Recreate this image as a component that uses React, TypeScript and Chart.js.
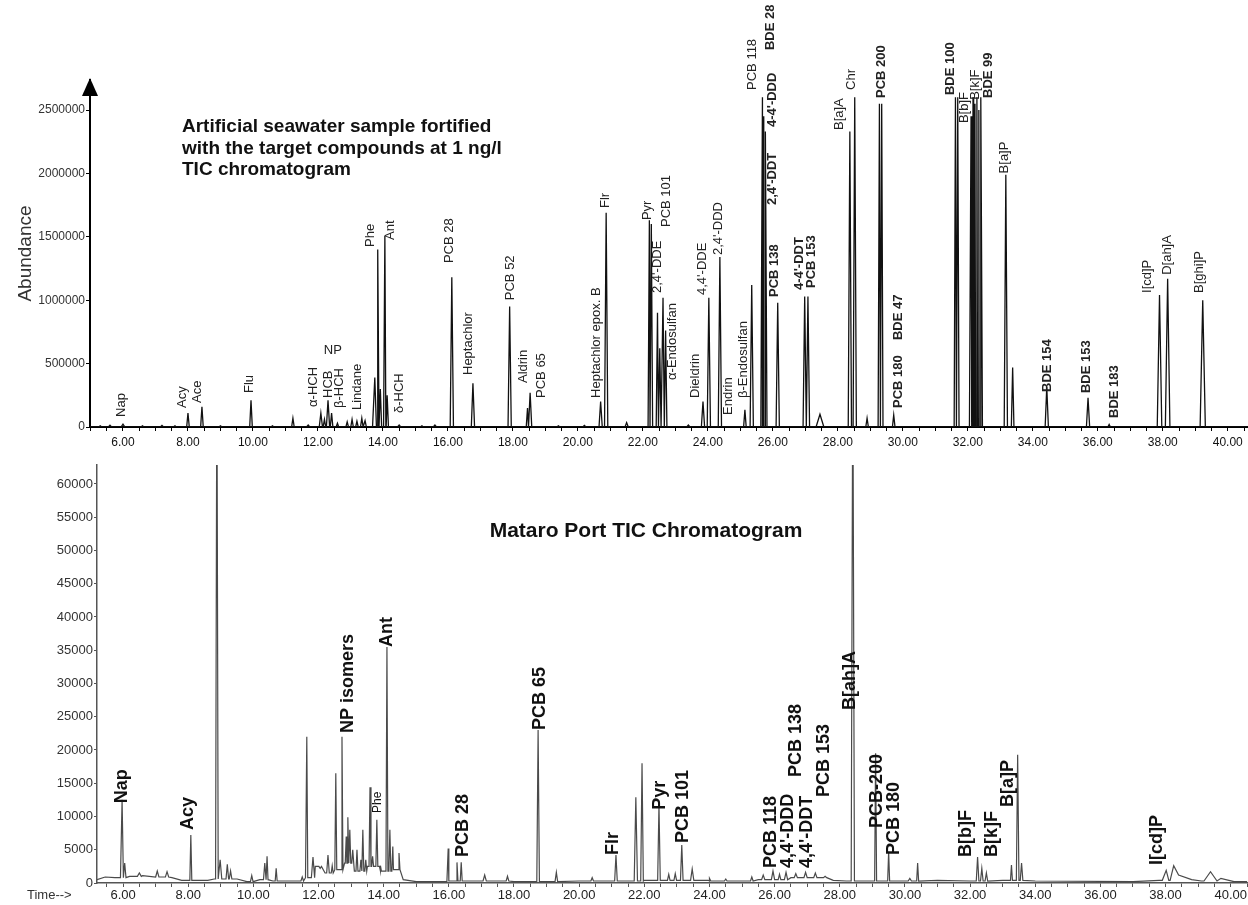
import React, { useEffect, useRef } from 'react';
import { Chart, registerables } from 'chart.js';

Chart.register(...registerables);

const FONT = "'Liberation Sans', Arial, Helvetica, sans-serif";

// ---- Fortified artificial seawater standard (TIC) ----
// [retention time (min), abundance, peak half width (min)]
const standardPeaks: [number, number, number][] = [
  [5.3, 10000, 0.05], [5.6, 14000, 0.05], [6.0, 22000, 0.06], [6.6, 9000, 0.05],
  [7.2, 12000, 0.05], [7.6, 9000, 0.05], [8.0, 110000, 0.04], [8.43, 160000, 0.04],
  [9.0, 9000, 0.05], [9.94, 210000, 0.04], [10.6, 9000, 0.05], [11.23, 70000, 0.04],
  [11.7, 15000, 0.05], [12.09, 110000, 0.05], [12.2, 60000, 0.04], [12.31, 210000, 0.05],
  [12.42, 110000, 0.04], [12.6, 30000, 0.04], [12.9, 40000, 0.04], [13.05, 60000, 0.04],
  [13.2, 45000, 0.04], [13.35, 70000, 0.04], [13.45, 50000, 0.04], [13.75, 390000, 0.07],
  [13.84, 1400000, 0.04], [13.92, 300000, 0.04], [14.06, 1510000, 0.04], [14.13, 250000, 0.04],
  [14.5, 15000, 0.05], [15.2, 10000, 0.05], [15.6, 15000, 0.05], [16.12, 1180000, 0.05],
  [16.77, 345000, 0.05], [17.9, 950000, 0.05], [18.45, 150000, 0.04], [18.53, 270000, 0.05],
  [19.4, 10000, 0.05], [20.2, 12000, 0.05], [20.7, 200000, 0.05], [20.87, 1690000, 0.05],
  [21.5, 35000, 0.05], [22.2, 1630000, 0.04], [22.26, 1600000, 0.04], [22.45, 900000, 0.04],
  [22.52, 620000, 0.04], [22.62, 1020000, 0.04], [22.7, 760000, 0.04], [23.4, 15000, 0.05],
  [23.85, 200000, 0.05], [24.03, 1020000, 0.05], [24.37, 1340000, 0.05], [25.14, 135000, 0.04],
  [25.35, 1120000, 0.05], [25.68, 2600000, 0.05], [25.72, 2450000, 0.04], [25.77, 2330000, 0.05],
  [26.15, 980000, 0.05], [26.98, 1030000, 0.05], [27.08, 1030000, 0.05], [27.45, 100000, 0.12],
  [28.37, 2330000, 0.05], [28.52, 2600000, 0.05], [28.9, 70000, 0.04], [29.28, 2550000, 0.04],
  [29.35, 2550000, 0.04], [29.72, 95000, 0.04], [31.62, 2600000, 0.04], [31.69, 2600000, 0.04],
  [32.1, 2450000, 0.05], [32.16, 2600000, 0.04], [32.22, 2550000, 0.04], [32.28, 2600000, 0.04],
  [32.34, 2500000, 0.04], [32.4, 2600000, 0.05], [33.17, 1990000, 0.05], [33.38, 470000, 0.04],
  [34.43, 315000, 0.05], [35.7, 230000, 0.05], [36.35, 20000, 0.04], [37.9, 1040000, 0.07],
  [38.15, 1170000, 0.07], [39.23, 1000000, 0.08],
];
const standardBaseline: [number, number][] = [[4.985, 0], [40.615, 0]];

// compound names, anchored at (retention time, abundance) where the text starts
const standardLabels = [
  { text: 'Nap', t: 5.94, v: 79000 }, { text: 'Acy', t: 7.82, v: 150000 },
  { text: 'Ace', t: 8.28, v: 189000 }, { text: 'Flu', t: 9.88, v: 268000 },
  { text: 'α-HCH', t: 11.85, v: 158000 }, { text: 'NP', t: 12.46, v: 607000 },
  { text: 'HCB', t: 12.31, v: 229000 }, { text: 'β-HCH', t: 12.65, v: 150000 },
  { text: 'Lindane', t: 13.2, v: 134000 }, { text: 'Phe', t: 13.6, v: 1420000 },
  { text: 'Ant', t: 14.22, v: 1475000 }, { text: 'δ-HCH', t: 14.52, v: 110000 },
  { text: 'PCB 28', t: 16.06, v: 1293000 }, { text: 'Heptachlor', t: 16.62, v: 410000 },
  { text: 'PCB 52', t: 17.91, v: 1000000 }, { text: 'Aldrin', t: 18.31, v: 347000 },
  { text: 'PCB 65', t: 18.89, v: 229000 }, { text: 'Heptachlor epox. B', t: 20.58, v: 229000 },
  { text: 'Flr', t: 20.86, v: 1727000 }, { text: 'Pyr', t: 22.15, v: 1632000 },
  { text: "2,4'-DDE", t: 22.46, v: 1057000 }, { text: 'PCB 101', t: 22.74, v: 1577000 },
  { text: 'α-Endosulfan', t: 22.92, v: 371000 }, { text: 'Dieldrin', t: 23.63, v: 229000 },
  { text: "4,4'-DDE", t: 23.82, v: 1041000 }, { text: "2,4'-DDD", t: 24.31, v: 1356000 },
  { text: 'Endrin', t: 24.62, v: 95000 }, { text: 'β-Endosulfan', t: 25.08, v: 229000 },
  { text: 'PCB 118', t: 25.38, v: 2658000 }, { text: 'BDE 28', t: 25.91, v: 2973000 },
  { text: "4-4'-DDD", t: 26.0, v: 2366000 }, { text: "2,4'-DDT", t: 26.0, v: 1751000 },
  { text: 'PCB 138', t: 26.06, v: 1025000 }, { text: "4-4'-DDT", t: 26.83, v: 1080000 },
  { text: 'PCB 153', t: 27.2, v: 1096000 }, { text: 'B[a]A', t: 28.06, v: 2342000 },
  { text: 'Chr', t: 28.43, v: 2658000 }, { text: 'PCB 200', t: 29.35, v: 2595000 },
  { text: 'PCB 180', t: 29.88, v: 150000 }, { text: 'BDE 47', t: 29.88, v: 686000 },
  { text: 'BDE 100', t: 31.45, v: 2618000 }, { text: 'B[b]F', t: 31.91, v: 2397000 },
  { text: 'B[k]F', t: 32.22, v: 2580000 }, { text: 'BDE 99', t: 32.62, v: 2595000 },
  { text: 'B[a]P', t: 33.14, v: 2000000 }, { text: 'BDE 154', t: 34.46, v: 276000 },
  { text: 'BDE 153', t: 35.66, v: 268000 }, { text: 'BDE 183', t: 36.52, v: 71000 },
  { text: 'I[cd]P', t: 37.54, v: 1057000 }, { text: 'D[ah]A', t: 38.15, v: 1200000 },
  { text: 'B[ghi]P', t: 39.14, v: 1057000 },
];
const standardAbundanceTicks = [0, 500000, 1000000, 1500000, 2000000, 2500000];
const standardTitle = [
  'Artificial seawater sample fortified',
  'with the target compounds at 1 ng/l',
  'TIC chromatogram',
];

// ---- Mataro Port sample (TIC) ----
const portPeaks: [number, number, number][] = [
  [5.97, 12500, 0.05], [6.05, 3000, 0.04], [6.5, 1500, 0.06], [7.05, 1800, 0.05],
  [7.35, 1700, 0.05], [8.08, 7200, 0.03], [8.88, 80000, 0.04], [8.98, 3500, 0.05],
  [9.2, 2800, 0.04], [9.3, 1800, 0.04], [9.95, 1100, 0.04], [10.35, 3000, 0.04],
  [10.42, 4000, 0.03], [10.7, 2200, 0.03], [11.5, 900, 0.04], [11.64, 22000, 0.03],
  [11.83, 3900, 0.05], [12.05, 2200, 0.04], [12.29, 4200, 0.04], [12.42, 2600, 0.03],
  [12.53, 16500, 0.03], [12.72, 22000, 0.03], [12.85, 7000, 0.03], [12.9, 9900, 0.03],
  [12.96, 8000, 0.03], [13.05, 5000, 0.03], [13.18, 5000, 0.03], [13.3, 3500, 0.03],
  [13.36, 8000, 0.03], [13.45, 3500, 0.03], [13.58, 14400, 0.03], [13.66, 4000, 0.03],
  [13.79, 9500, 0.03], [13.9, 2600, 0.03], [14.1, 35500, 0.03], [14.19, 8000, 0.03],
  [14.28, 5500, 0.03], [14.47, 4500, 0.03], [15.98, 5200, 0.04], [16.25, 3100, 0.03],
  [16.38, 3100, 0.03], [17.1, 1200, 0.05], [17.8, 1000, 0.04], [18.74, 23000, 0.04],
  [19.3, 1600, 0.04], [20.4, 800, 0.04], [21.13, 4200, 0.04], [21.74, 12900, 0.05],
  [21.93, 18000, 0.04], [22.45, 11700, 0.04], [22.75, 1300, 0.04], [22.95, 1400, 0.04],
  [23.15, 5700, 0.04], [23.47, 2100, 0.05], [24.0, 700, 0.04], [24.5, 600, 0.04],
  [25.3, 900, 0.04], [25.65, 1200, 0.05], [25.95, 1800, 0.05], [26.15, 1300, 0.04],
  [26.35, 1600, 0.05], [26.65, 1400, 0.05], [26.95, 1600, 0.05], [27.25, 1500, 0.05],
  [27.55, 1000, 0.05], [28.4, 80000, 0.05], [29.1, 19500, 0.03], [29.5, 4700, 0.03],
  [30.15, 700, 0.05], [30.39, 3000, 0.03], [32.23, 3900, 0.04], [32.36, 2200, 0.04],
  [32.5, 1500, 0.04], [33.27, 2700, 0.03], [33.46, 19300, 0.04], [33.58, 3000, 0.04],
  [38.02, 1900, 0.12], [38.25, 2600, 0.15], [39.38, 1700, 0.2],
];
const portBaseline: [number, number][] = [
  [5.2, 500], [5.45, 900], [5.75, 800], [6.2, 1000], [6.6, 1100], [7.0, 900], [7.5, 800],
  [7.8, 400], [8.6, 400], [8.8, 600], [9.5, 600], [9.8, 200], [10.2, 500], [10.6, 300],
  [11.3, 300], [11.6, 800], [11.9, 2500], [12.2, 1500], [12.5, 2000], [12.8, 3000],
  [13.1, 1800], [13.5, 2500], [13.9, 1800], [14.3, 2000], [14.6, 500], [15.0, 200],
  [16.0, 300], [16.6, 300], [18.0, 200], [20.0, 300], [22.0, 400], [24.0, 300], [25.5, 500],
  [26.5, 800], [27.8, 400], [28.2, 300], [30.0, 300], [31.0, 400], [32.0, 300], [33.0, 400],
  [34.0, 300], [37.0, 200], [37.8, 400], [38.4, 1200], [38.8, 500], [39.1, 300], [39.7, 700],
  [40.1, 200], [40.51, 200],
];
const portLabels = [
  { text: 'Nap', t: 5.97, v: 12000 }, { text: 'Acy', t: 7.99, v: 7970 },
  { text: 'NP isomers', t: 12.9, v: 22560 }, { text: 'Phe', t: 13.82, v: 10530 },
  { text: 'Ant', t: 14.1, v: 35500 }, { text: 'PCB 28', t: 16.43, v: 3900 },
  { text: 'PCB 65', t: 18.79, v: 23000 }, { text: 'Flr', t: 21.03, v: 4200 },
  { text: 'Pyr', t: 22.47, v: 11000 }, { text: 'PCB 101', t: 23.18, v: 6000 },
  { text: 'PCB 118', t: 25.88, v: 2260 }, { text: "4,4'-DDD", t: 26.4, v: 2260 },
  { text: 'PCB 138', t: 26.67, v: 15940 }, { text: "4,4'-DDT", t: 27.01, v: 2260 },
  { text: 'PCB 153', t: 27.53, v: 12930 }, { text: 'B[ah]A', t: 28.33, v: 26000 },
  { text: 'PCB-200', t: 29.13, v: 8270 }, { text: 'PCB 180', t: 29.68, v: 4210 },
  { text: 'B[b]F', t: 31.89, v: 3900 }, { text: 'B[k]F', t: 32.66, v: 3900 },
  { text: 'B[a]P', t: 33.15, v: 11430 }, { text: 'I[cd]P', t: 37.75, v: 2700 },
];
const portAbundanceTicks = [0, 5000, 10000, 15000, 20000, 25000, 30000, 35000, 40000, 45000, 50000, 55000, 60000];
const portTitle = 'Mataro Port TIC Chromatogram';

// labelled retention times on both time axes
const timeMajor = [6, 8, 10, 12, 14, 16, 18, 20, 22, 24, 26, 28, 30, 32, 34, 36, 38, 40];

// label styling
const standardBold = new Set(['BDE 28', "4-4'-DDD", "2,4'-DDT", 'PCB 138', "4-4'-DDT", 'PCB 153', 'PCB 200', 'PCB 180', 'BDE 47', 'BDE 100', 'BDE 99', 'BDE 154', 'BDE 153', 'BDE 183']);
const standardHorizontal = new Set(['NP']);
const portSmall = new Set(['Phe']);

type Pt = { x: number; y: number };

// Turns the peak table into a polyline: each peak is a spike rising from the local baseline.
function buildTrace(peaks: [number, number, number][], baseline: [number, number][]): Pt[] {
  const baseAt = (t: number) => {
    let v = baseline[0][1];
    for (const [bt, bv] of baseline) {
      if (bt <= t) v = bv;
      else break;
    }
    return v;
  };
  const pts: Pt[] = baseline.map(([x, y]) => ({ x, y }));
  peaks.forEach(([t, h, w]) => {
    pts.push({ x: t - w, y: baseAt(t - w) }, { x: t, y: h }, { x: t + w, y: baseAt(t + w) });
  });
  return pts.sort((a, b) => a.x - b.x);
}

function timeTicks(min: number, max: number) {
  const out: { value: number }[] = [];
  for (let v = Math.ceil(min * 2) / 2; v <= max + 1e-9; v += 0.5) out.push({ value: v });
  return out;
}

type Label = { text: string; t: number; v: number };

function labelPlugin(id: string, items: Label[], fontFor: (s: string) => string, color: string, horizontal: Set<string>) {
  return {
    id,
    afterDatasetsDraw(chart: any) {
      const { ctx, scales } = chart;
      ctx.save();
      ctx.fillStyle = color;
      ctx.textBaseline = 'middle';
      items.forEach((lab) => {
        const px = scales.x.getPixelForValue(lab.t);
        const py = scales.y.getPixelForValue(lab.v);
        ctx.font = fontFor(lab.text);
        ctx.save();
        ctx.translate(px, py);
        if (horizontal.has(lab.text)) {
          ctx.textAlign = 'center';
        } else {
          ctx.rotate(-Math.PI / 2);
          ctx.textAlign = 'left';
        }
        ctx.fillText(lab.text, 0, 0);
        ctx.restore();
      });
      ctx.restore();
    },
  };
}

const standardDecor = {
  id: 'standardDecor',
  afterDraw(chart: any) {
    const { ctx, chartArea } = chart;
    ctx.save();
    // arrow head on the abundance axis
    ctx.fillStyle = '#000';
    ctx.beginPath();
    ctx.moveTo(chartArea.left, chartArea.top - 2);
    ctx.lineTo(chartArea.left - 8, chartArea.top + 16);
    ctx.lineTo(chartArea.left + 8, chartArea.top + 16);
    ctx.closePath();
    ctx.fill();
    // sample description
    ctx.fillStyle = '#111';
    ctx.font = `bold 19px ${FONT}`;
    ctx.textAlign = 'left';
    ctx.textBaseline = 'middle';
    standardTitle.forEach((line, i) => ctx.fillText(line, 182, 127 + i * 21.5));
    ctx.restore();
  },
};

const portDecor = {
  id: 'portDecor',
  afterDraw(chart: any) {
    const { ctx } = chart;
    ctx.save();
    ctx.fillStyle = '#111';
    ctx.font = `bold 21px ${FONT}`;
    ctx.textAlign = 'center';
    ctx.textBaseline = 'middle';
    ctx.fillText(portTitle, 646, 76);
    ctx.font = `13px ${FONT}`;
    ctx.fillStyle = '#333';
    ctx.textAlign = 'left';
    ctx.fillText('Time-->', 27, 440);
    ctx.restore();
  },
};

function timeLabel(v: number) {
  return timeMajor.includes(v) ? v.toFixed(2) : '';
}

function standardConfig(): any {
  const xMin = 4.985;
  const xMax = 40.615;
  return {
    type: 'line',
    data: {
      datasets: [{
        data: buildTrace(standardPeaks, standardBaseline),
        borderColor: '#111',
        borderWidth: 1.3,
        pointRadius: 0,
        tension: 0,
        fill: false,
      }],
    },
    options: {
      animation: false,
      responsive: false,
      devicePixelRatio: 1,
      layout: { padding: { top: 80, left: 0, right: 0, bottom: 0 } },
      plugins: { legend: { display: false }, tooltip: { enabled: false } },
      scales: {
        x: {
          type: 'linear',
          min: xMin,
          max: xMax,
          border: { color: '#000', width: 2 },
          grid: { drawOnChartArea: false, drawTicks: true, tickLength: 4, color: '#000', lineWidth: 1 },
          ticks: { autoSkip: false, maxRotation: 0, padding: 4, color: '#111', font: { family: FONT, size: 12 }, callback: timeLabel },
          afterBuildTicks: (s: any) => { s.ticks = timeTicks(xMin, xMax); },
          afterFit: (s: any) => { s.height = 28; },
        },
        y: {
          type: 'linear',
          min: 0,
          max: 2736600,
          border: { color: '#000', width: 2 },
          grid: { drawOnChartArea: false, drawTicks: true, tickLength: 4, color: '#000', lineWidth: 1 },
          ticks: { padding: 1, color: '#333', font: { family: FONT, size: 12 }, callback: (v: number) => String(v) },
          title: { display: true, text: 'Abundance', color: '#333', font: { family: FONT, size: 19 }, padding: { top: 14, bottom: 0 } },
          afterBuildTicks: (s: any) => { s.ticks = standardAbundanceTicks.map((value) => ({ value })); },
          afterFit: (s: any) => { s.width = 90; },
        },
      },
    },
    plugins: [
      labelPlugin('standardLabels', standardLabels,
        (s) => `${standardBold.has(s) ? 'bold ' : ''}13px ${FONT}`, '#222', standardHorizontal),
      standardDecor,
    ],
  };
}

function portConfig(): any {
  const xMin = 5.2;
  const xMax = 40.51;
  return {
    type: 'line',
    data: {
      datasets: [{
        data: buildTrace(portPeaks, portBaseline),
        borderColor: '#4a4a4a',
        borderWidth: 1.2,
        pointRadius: 0,
        tension: 0,
        fill: false,
      }],
    },
    options: {
      animation: false,
      responsive: false,
      devicePixelRatio: 1,
      layout: { padding: { top: 10, left: 0, right: 0, bottom: 0 } },
      plugins: { legend: { display: false }, tooltip: { enabled: false } },
      scales: {
        x: {
          type: 'linear',
          min: xMin,
          max: xMax,
          border: { color: '#555', width: 1.5 },
          grid: { drawOnChartArea: false, drawTicks: true, tickLength: 4, color: '#555', lineWidth: 1 },
          ticks: { autoSkip: false, maxRotation: 0, padding: 1, color: '#222', font: { family: FONT, size: 13 }, callback: timeLabel },
          afterBuildTicks: (s: any) => { s.ticks = timeTicks(xMin, xMax); },
          afterFit: (s: any) => { s.height = 22; },
        },
        y: {
          type: 'linear',
          min: 0,
          max: 62857,
          border: { color: '#555', width: 1.5 },
          grid: { drawOnChartArea: false, drawTicks: true, tickLength: 3, color: '#555', lineWidth: 1 },
          ticks: { padding: 1, color: '#333', font: { family: FONT, size: 13 }, callback: (v: number) => String(v) },
          afterBuildTicks: (s: any) => { s.ticks = portAbundanceTicks.map((value) => ({ value })); },
          afterFit: (s: any) => { s.width = 97; },
        },
      },
    },
    plugins: [
      labelPlugin('portLabels', portLabels,
        (s) => (portSmall.has(s) ? `12px ${FONT}` : `bold 18px ${FONT}`), '#111', new Set<string>()),
      portDecor,
    ],
  };
}

export default function App() {
  const standardRef = useRef<HTMLCanvasElement>(null);
  const portRef = useRef<HTMLCanvasElement>(null);

  useEffect(() => {
    const standard = new Chart(standardRef.current as HTMLCanvasElement, standardConfig());
    const port = new Chart(portRef.current as HTMLCanvasElement, portConfig());
    return () => {
      standard.destroy();
      port.destroy();
    };
  }, []);

  return (
    <div style={{ position: 'absolute', left: 0, top: 0, width: 1248, height: 905, background: '#fff', overflow: 'hidden' }}>
      <canvas ref={standardRef} width={1248} height={455} style={{ position: 'absolute', left: 0, top: 0 }} />
      <canvas ref={portRef} width={1248} height={450} style={{ position: 'absolute', left: 0, top: 455 }} />
    </div>
  );
}
